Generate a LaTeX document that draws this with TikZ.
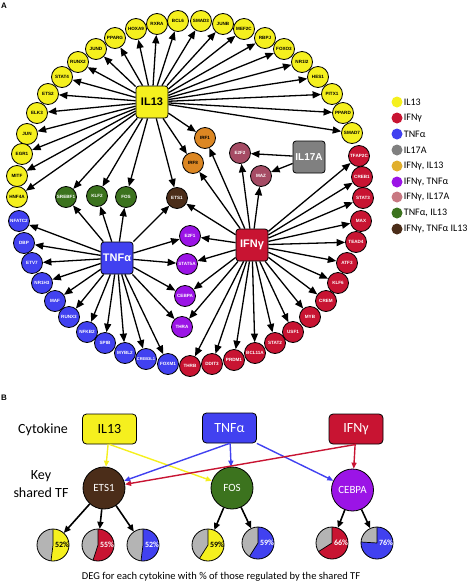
\documentclass[tikz,border=0pt]{standalone}
\usepackage{fontspec}
\setmainfont{Liberation Sans}
\newfontfamily\calib{Carlito}
\usetikzlibrary{arrows.meta,positioning}

\definecolor{cyel}{RGB}{245,240,30}
\definecolor{cred}{RGB}{200,20,50}
\definecolor{cblue}{RGB}{65,65,240}
\definecolor{cgray}{RGB}{128,128,128}
\definecolor{corange}{RGB}{220,135,35}
\definecolor{cpurple}{RGB}{155,20,230}
\definecolor{cmauve}{RGB}{165,75,100}
\definecolor{cgreen}{RGB}{60,115,30}
\definecolor{cbrown}{RGB}{75,45,25}
\definecolor{lorange}{RGB}{225,175,45}
\definecolor{lpink}{RGB}{200,120,130}
\definecolor{pgray}{RGB}{180,180,180}

\newcommand{\drawpie}[4]{%
  \fill[pgray] (#1.center) circle[radius=16];
  \fill[#2] (#1.center) -- ++(90:16) arc[start angle=90, end angle={90-3.6*#3}, radius=16] -- cycle;
  \draw[line width=0.7pt] (#1.center) -- ++(90:16) (#1.center) -- ++({90-3.6*#3}:16);
  \draw[line width=0.8pt] (#1.center) circle[radius=16];
  \node[pct, text=#4] at ([xshift=9pt]#1.center) {#3\%};
}

\tikzset{
  tf/.style={circle, draw=black, line width=0.8pt, minimum size=21pt, inner sep=0pt,
    text=white, font=\fontsize{4.6}{5}\selectfont\bfseries},
  il13tf/.style={tf, fill=cyel, text=black},
  ifngtf/.style={tf, fill=cred},
  tnfatf/.style={tf, fill=cblue},
  ifnil13tf/.style={tf, fill=corange, text=black},
  ifntnftf/.style={tf, fill=cpurple},
  ifnil17tf/.style={tf, fill=cmauve},
  tnfil13tf/.style={tf, fill=cgreen},
  alltf/.style={tf, fill=cbrown},
  cyto/.style={rectangle, rounded corners=3pt, draw=black, line width=0.8pt,
    minimum size=32pt, inner sep=0pt, font=\fontsize{11}{12}\selectfont\bfseries},
  hit/.style={-{Triangle[length=8.5pt,width=7pt]}, line width=1.3pt},
  legdot/.style={circle, minimum size=11pt, inner sep=0pt},
  legtxt/.style={right=0pt of #1, inner sep=1pt, font=\calib\fontsize{10}{11}\selectfont},
  bcyto/.style={rectangle, rounded corners=4pt, draw=black, line width=0.8pt,
    minimum width=54pt, minimum height=30pt, font=\calib\fontsize{14}{16}\selectfont},
  btf/.style={circle, draw=black, line width=0.8pt, minimum size=42pt, inner sep=0pt,
    text=white, font=\calib\fontsize{11}{12}\selectfont},
  pie/.style={circle, minimum size=32pt, inner sep=0pt},
  pct/.style={inner sep=0pt, font=\calib\fontsize{8}{9}\selectfont\bfseries},
  down/.style={-{Triangle[length=7pt,width=6pt]}, line width=1.6pt},
  cline/.style={-{Triangle[length=6pt,width=5pt]}, line width=1.4pt}
}

\begin{document}
\begin{tikzpicture}[x=1pt, y=1pt]
    \useasboundingbox (0,0) rectangle (474,-584);

    % panel A
    \node (pa) [font=\fontsize{8}{9}\selectfont\bfseries] at (4,-6) {A};

    \node (il13) [cyto, fill=cyel] at (152,-102) {IL13};
    \node (tnfa) [cyto, fill=cblue, text=white] at (117,-258) {TNFα};
    \node (ifng) [cyto, fill=cred, text=white] at (252,-245) {IFNγ};
    \node (il17a) [cyto, fill=cgray, text=white, font=\fontsize{10}{11}\selectfont\bfseries] at (309,-157) {IL17A};

    % IL13 only
    \node (pparg) [il13tf] at (115,-38) {PPARG};
    \node (hoxa9) [il13tf] at (136,-29) {HOXA9};
    \node (rxra) [il13tf] at (157,-24) {RXRA};
    \node (bcl6) [il13tf] at (178,-21) {BCL6};
    \node (smad3) [il13tf] at (201,-21) {SMAD3};
    \node (junb) [il13tf] at (223,-24) {JUNB};
    \node (mef2c) [il13tf] at (244,-29) {MEF2C};
    \node (rbpj) [il13tf] at (265,-38) {RBPJ};
    \node (foxo3) [il13tf] at (284,-49) {FOXO3};
    \node (nr1i2) [il13tf] at (302,-62) {NR1I2};
    \node (hes1) [il13tf] at (318,-77) {HES1};
    \node (pitx1) [il13tf] at (332,-94) {PITX1};
    \node (ppard) [il13tf] at (343,-113) {PPARD};
    \node (smad7) [il13tf] at (352,-133) {SMAD7};
    \node (jund) [il13tf] at (96,-49) {JUND};
    \node (runx2) [il13tf] at (78,-62) {RUNX2};
    \node (stat4) [il13tf] at (62,-77) {STAT4};
    \node (ets2) [il13tf] at (48,-94) {ETS2};
    \node (elk3) [il13tf] at (37,-113) {ELK3};
    \node (jun) [il13tf] at (27,-134) {JUN};
    \node (egr1) [il13tf] at (22,-154) {EGR1};
    \node (mitf) [il13tf] at (17,-176) {MITF};
    \node (hnf4a) [il13tf] at (17,-197) {HNF4A};

    % IFNg only
    \node (tfap2c) [ifngtf] at (359,-156) {TFAP2C};
    \node (creb1) [ifngtf] at (362,-177) {CREB1};
    \node (stat3) [ifngtf] at (363,-198) {STAT3};
    \node (max) [ifngtf] at (361,-221) {MAX};
    \node (tead4) [ifngtf] at (356,-242) {TEAD4};
    \node (atf3) [ifngtf] at (347,-263) {ATF3};
    \node (klf6) [ifngtf] at (338,-283) {KLF6};
    \node (crem) [ifngtf] at (326,-301) {CREM};
    \node (myb) [ifngtf] at (310,-317) {MYB};
    \node (usf1) [ifngtf] at (293,-332) {USF1};
    \node (stat2) [ifngtf] at (275,-343) {STAT2};
    \node (bcl11a) [ifngtf] at (255,-353) {BCL11A};
    \node (prdm1) [ifngtf] at (234,-360) {PRDM1};
    \node (ddit3) [ifngtf] at (212,-364) {DDIT3};
    \node (thrb) [ifngtf] at (190,-366) {THRB};

    % TNFa only
    \node (nfatc2) [tnfatf] at (19,-221) {NFATC2};
    \node (dbp) [tnfatf] at (24,-243) {DBP};
    \node (etv7) [tnfatf] at (32,-263) {ETV7};
    \node (nr1h3) [tnfatf] at (42,-283) {NR1H3};
    \node (maf) [tnfatf] at (55,-301) {MAF};
    \node (runx3) [tnfatf] at (69,-317) {RUNX3};
    \node (nfkb2) [tnfatf] at (87,-332) {NFKB2};
    \node (spib) [tnfatf] at (105,-343) {SPIB};
    \node (mybl2) [tnfatf] at (125,-353) {MYBL2};
    \node (creb3l1) [tnfatf, font=\fontsize{4}{4}\selectfont\bfseries] at (146,-359) {CREB3L1};
    \node (foxm1) [tnfatf] at (168,-364) {FOXM1};

    % shared
    \node (irf1) [ifnil13tf] at (205,-138) {IRF1};
    \node (irf8) [ifnil13tf] at (193,-163) {IRF8};
    \node (e2f2) [ifnil17tf] at (240,-153) {E2F2};
    \node (maz) [ifnil17tf] at (261,-176) {MAZ};
    \node (srebf1) [tnfil13tf] at (66,-197) {SREBF1};
    \node (klf2) [tnfil13tf] at (97,-196) {KLF2};
    \node (fos) [tnfil13tf] at (126,-197) {FOS};
    \node (ets1) [alltf] at (177,-198) {ETS1};
    \node (e2f1) [ifntnftf] at (190,-236) {E2F1};
    \node (stat5a) [ifntnftf] at (187,-264) {STAT5A};
    \node (cebpa) [ifntnftf] at (185,-296) {CEBPA};
    \node (thra) [ifntnftf] at (182,-327) {THRA};

    \foreach \t in {pparg,hoxa9,rxra,bcl6,smad3,junb,mef2c,rbpj,foxo3,nr1i2,hes1,pitx1,ppard,smad7,
        jund,runx2,stat4,ets2,elk3,jun,egr1,mitf,hnf4a,irf1,irf8,srebf1,klf2,fos,ets1}
        \draw[hit] (il13) -- (\t);
    \foreach \t in {nfatc2,dbp,etv7,nr1h3,maf,runx3,nfkb2,spib,mybl2,creb3l1,foxm1,
        srebf1,klf2,fos,ets1,e2f1,stat5a,cebpa,thra}
        \draw[hit] (tnfa) -- (\t);
    \foreach \t in {tfap2c,creb1,stat3,max,tead4,atf3,klf6,crem,myb,usf1,stat2,bcl11a,prdm1,ddit3,thrb,
        irf1,irf8,e2f2,maz,ets1,e2f1,stat5a,cebpa,thra}
        \draw[hit] (ifng) -- (\t);
    \draw[hit] (il17a) -- (e2f2);
    \draw[hit] (il17a) -- (maz);

    % legend
    \node (lg1) [legdot, fill=cyel] at (397,-102) {};
    \node [legtxt=lg1] {IL13};
    \node (lg2) [legdot, fill=cred] at (397,-118) {};
    \node [legtxt=lg2] {IFNγ};
    \node (lg3) [legdot, fill=cblue] at (397,-134) {};
    \node [legtxt=lg3] {TNFα};
    \node (lg4) [legdot, fill=cgray] at (397,-150) {};
    \node [legtxt=lg4] {IL17A};
    \node (lg5) [legdot, fill=lorange] at (397,-166) {};
    \node [legtxt=lg5] {IFNγ, IL13};
    \node (lg6) [legdot, fill=cpurple] at (397,-182) {};
    \node [legtxt=lg6] {IFNγ, TNFα};
    \node (lg7) [legdot, fill=lpink] at (397,-197) {};
    \node [legtxt=lg7] {IFNγ, IL17A};
    \node (lg8) [legdot, fill=cgreen] at (397,-213) {};
    \node [legtxt=lg8] {TNFα, IL13};
    \node (lg9) [legdot, fill=cbrown] at (397,-229) {};
    \node [legtxt=lg9] {IFNγ, TNFα IL13};

    % panel B
    \node (pb) [font=\fontsize{8}{9}\selectfont\bfseries] at (4,-398) {B};
    \node (cyt) [font=\calib\fontsize{14}{16}\selectfont] at (43,-430) {Cytokine};
    \node (key) [align=center, font=\calib\fontsize{14}{18}\selectfont] at (41,-484) {Key\\shared TF};

    \node (bil13) [bcyto, fill=cyel] at (109.5,-429) {IL13};
    \node (btnfa) [bcyto, fill=cblue, text=white] at (229.5,-428) {TNFα};
    \node (bifng) [bcyto, fill=cred, text=white] at (356,-429) {IFNγ};

    \node (bets1) [btf, fill=cbrown] at (104,-488) {ETS1};
    \node (bfos) [btf, fill=cgreen] at (232,-488) {FOS};
    \node (bcebpa) [btf, fill=cpurple] at (352.5,-490) {CEBPA};

    \draw[cline, cyel] (bil13) -- (bets1);
    \draw[cline, cyel] (bil13.south) -- (bfos);
    \draw[cline, cblue] (btnfa.south) -- (bets1);
    \draw[cline, cblue] (btnfa) -- (bfos);
    \draw[cline, cblue] (btnfa.south east) -- (bcebpa);
    \draw[cline, cred] (bifng.south) -- (bets1);
    \draw[cline, cred] (bifng) -- (bcebpa);

    \node (p1) [pie] at (53,-545) {};
    \node (p2) [pie] at (98,-545) {};
    \node (p3) [pie] at (143,-545) {};
    \node (p4) [pie] at (208,-545) {};
    \node (p5) [pie] at (258,-543) {};
    \node (p6) [pie] at (332,-543) {};
    \node (p7) [pie] at (377,-543) {};

    \draw[down] (bets1) -- (p1);
    \draw[down] (bets1) -- (p2);
    \draw[down] (bets1) -- (p3);
    \draw[down] (bfos) -- (p4);
    \draw[down] (bfos) -- (p5);
    \draw[down] (bcebpa) -- (p6);
    \draw[down] (bcebpa) -- (p7);

    \drawpie{p1}{cyel}{52}{black}
    \drawpie{p2}{cred}{55}{white}
    \drawpie{p3}{cblue}{52}{white}
    \drawpie{p4}{cyel}{59}{black}
    \drawpie{p5}{cblue}{59}{white}
    \drawpie{p6}{cred}{66}{white}
    \drawpie{p7}{cblue}{76}{white}

    \node (cap) [font=\calib\fontsize{10.5}{12}\selectfont] at (221,-577) {DEG for each cytokine with \% of those regulated by the shared TF};
\end{tikzpicture}
\end{document}
